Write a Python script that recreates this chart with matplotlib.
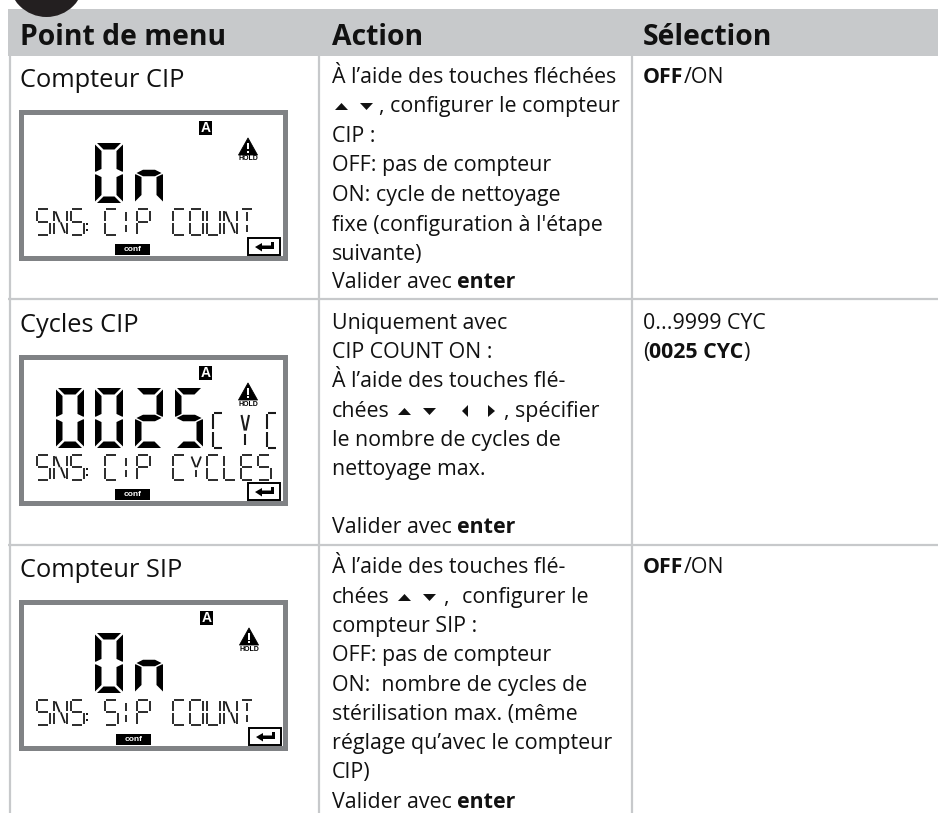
import matplotlib
matplotlib.use("Agg")
import matplotlib.pyplot as plt
from matplotlib.patches import Rectangle, Polygon, Circle

FONT = "Open Sans"
plt.rcParams["font.family"] = [FONT, "DejaVu Sans"]

# ---- table content ----
headers = ["Point de menu", "Action", "Sélection"]
header_x = [20, 332, 643]
row_titles = ["Compteur CIP", "Cycles CIP", "Compteur SIP"]
row_title_y = [87, 332, 577]
lcd_top = [110, 355, 600]
lcd_dx = [0, 0, 1]
lcd_big = ["On", "0025", "On"]
lcd_big_start = [1, 0, 1]
lcd_small = ["SNS C P COUNT", "SNS C P CYCLES", "SNS S P COUNT"]
lcd_unit = ["", "CYC", ""]

# each action line: baseline, list of (text, bold) runs or (mark, x) pieces
action_lines = [
    (83, [("À l’aide des touches fléchées", 0)]),
    (112, [("^", 335), ("v", 360), (", configurer le compteur", 379)]),
    (142, [("CIP :", 0)]),
    (171, [("OFF: pas de compteur", 0)]),
    (201, [("ON: cycle de nettoyage", 0)]),
    (231, [("fixe (configuration à l'étape", 0)]),
    (260, [("suivante)", 0)]),
    (288, [("Valider avec ", 0), ("enter", 1)]),
    (329, [("Uniquement avec", 0)]),
    (358, [("CIP COUNT ON :", 0)]),
    (387, [("À l’aide des touches flé-", 0)]),
    (417, [("chées", 332), ("^", 398), ("v", 423), ("<", 462), (">", 488), (", spécifier", 504)]),
    (446, [("le nombre de cycles de", 0)]),
    (475, [("nettoyage max.", 0)]),
    (533, [("Valider avec ", 0), ("enter", 1)]),
    (573, [("À l’aide des touches flé-", 0)]),
    (603, [("chées", 332), ("^", 398), ("v", 423), (",", 443), ("configurer le", 462)]),
    (632, [("compteur SIP :", 0)]),
    (661, [("OFF: pas de compteur", 0)]),
    (691, [("ON:  nombre de cycles de", 0)]),
    (720, [("stérilisation max. (même", 0)]),
    (749, [("réglage qu’avec le compteur", 0)]),
    (778, [("CIP)", 0)]),
    (808, [("Valider avec ", 0), ("enter", 1)]),
]
selection_lines = [
    (83, [("OFF", 1), ("/ON", 0)]),
    (329, [("0...9999 CYC", 0)]),
    (358, [("(", 0), ("0025 CYC", 1), (")", 0)]),
    (573, [("OFF", 1), ("/ON", 0)]),
]

GRAY = "#C7C9CB"
FRAME = "#808285"
INK = "#111111"

fig = plt.figure(figsize=(9.38, 8.13), dpi=100)
ax = fig.add_axes([0, 0, 1, 1])
ax.set_xlim(0, 938)
ax.set_ylim(813, 0)
ax.axis("off")
fig.canvas.draw()
renderer = fig.canvas.get_renderer()


def rect(x0, y0, x1, y1, fc, ec="none", lw=0, z=2):
    ax.add_patch(Rectangle((x0, y0), x1 - x0, y1 - y0, fc=fc, ec=ec, lw=lw, zorder=z))


def width(s, size, bold):
    w = "bold" if bold else "normal"
    t = ax.text(0, 0, s + "|", fontsize=size, fontweight=w)
    a = t.get_window_extent(renderer).width
    t.set_text("|")
    b = t.get_window_extent(renderer).width
    t.remove()
    return a - b


def runs(x, y, parts, size):
    for s, b in parts:
        ax.text(x, y, s, fontsize=size, fontweight="bold" if b else "normal",
                color=INK, va="baseline", ha="left", zorder=5)
        x += width(s, size, b)


def tri(x, y, kind):
    # arrow keys drawn relative to the line baseline
    if kind == "^":
        pts = [(x, y - 2), (x + 13, y - 2), (x + 6.5, y - 9)]
    elif kind == "v":
        pts = [(x, y - 9), (x + 13, y - 9), (x + 6.5, y - 2)]
    elif kind == "<":
        pts = [(x + 6, y - 12), (x + 6, y), (x, y - 6)]
    else:
        pts = [(x, y - 12), (x, y), (x + 7, y - 6)]
    ax.add_patch(Polygon(pts, fc=INK, ec="none", zorder=5))


# ---- header, grid ----
rect(8, 9, 938, 56, GRAY)
ax.add_patch(Circle((46.5, -21), 38, fc="#231F20", ec="none", zorder=3))
for s, x in zip(headers, header_x):
    ax.text(x, 45, s, fontsize=20.4, fontweight="bold", color=INK, va="baseline", zorder=5)
for x in (9.5, 319, 631.5):
    ax.plot([x, x], [56, 813], color=GRAY, lw=1.6, zorder=1, solid_capstyle="butt")
for y in (299.5, 544.5):
    ax.plot([8, 938], [y, y], color=GRAY, lw=1.6, zorder=1, solid_capstyle="butt")

# ---- segment displays ----
BIG_W, BIG_H, T = 28, 60, 6.5


def big_segments(x, y, segs, w=BIG_W, h=BIG_H, t=T):
    m = h / 2
    shapes = {
        "a": [(2, 0), (w - 2, 0), (w - 2 - t, t), (2 + t, t)],
        "d": [(2, h), (w - 2, h), (w - 2 - t, h - t), (2 + t, h - t)],
        "g": [(1.5, m), (1.5 + t, m - t / 2), (w - 1.5 - t, m - t / 2), (w - 1.5, m),
              (w - 1.5 - t, m + t / 2), (1.5 + t, m + t / 2)],
        "f": [(0, 1.5), (t, 1.5 + t), (t, m - t / 2 - .8), (0.6, m - 1.2), (0, m - 1.6)],
        "e": [(0, h - 1.5), (t, h - 1.5 - t), (t, m + t / 2 + .8), (0.6, m + 1.2), (0, m + 1.6)],
        "b": [(w, 1.5), (w - t, 1.5 + t), (w - t, m - t / 2 - .8), (w - .6, m - 1.2), (w, m - 1.6)],
        "c": [(w, h - 1.5), (w - t, h - 1.5 - t), (w - t, m + t / 2 + .8), (w - .6, m + 1.2), (w, m + 1.6)],
    }
    for sg in segs:
        ax.add_patch(Polygon([(x + px, y + py) for px, py in shapes[sg]],
                             fc="black", ec="none", zorder=4))


BIG = {"0": "abcdef", "2": "abged", "5": "afgcd", "O": "abcdef", "n": "gec"}
THIN = {
    "S": "afgcd", "N": "febchm", "C": "afed", "P": "afebg", "O": "abcdef",
    "U": "bcdef", "T": "ail", "Y": "hjl", "L": "fed", "E": "afedg", "I": "il",
}


def thin_char(x, y, ch, w=12.5, h=25.5, lw=1.3):
    m = h / 2
    cx = w / 2
    g = 1.2
    lines = {
        "a": [(g, 0), (w - g, 0)], "d": [(g, h), (w - g, h)],
        "g": [(g, m), (w - g, m)],
        "f": [(0, g), (0, m - g)], "e": [(0, m + g), (0, h - g)],
        "b": [(w, g), (w, m - g)], "c": [(w, m + g), (w, h - g)],
        "i": [(cx, 3), (cx, m - g)], "l": [(cx, m + 3), (cx, h - 3)],
        "h": [(1.5, 2), (cx - .5, m)], "j": [(w - 1.5, 2), (cx + .5, m)],
        "m": [(cx + .5, m), (w - 1.5, h - 2)],
    }
    for sg in THIN[ch]:
        (x0, y0), (x1, y1) = lines[sg]
        ax.plot([x + x0, x + x1], [y + y0, y + y1], color="#1a1a1a", lw=lw,
                solid_capstyle="butt", zorder=4)


def small_line(lx, ly, text):
    # 14-segment row; position 3 of the row is the colon slot
    for i, ch in enumerate(text):
        if ch == " ":
            continue
        nudge = -2 if i == 6 else 0
        thin_char(lx + 18 + 17 * i + nudge, ly + 99.5, ch)
    for dy in (114, 119.5):
        rect(lx + 67, ly + dy - 1, lx + 69, ly + dy + 1, "#1a1a1a", z=4)
    # the narrow "I" between the two letters of the program name
    thin_char(lx + 18 + 17 * 5 - 2.5, ly + 99.5, "I")


def lcd(i):
    dx = lcd_dx[i]
    lx, ly = 19, lcd_top[i]
    rect(lx, ly, lx + 269, ly + 151, FRAME, z=2)
    rect(lx + 5, ly + 5, lx + 264, ly + 146, "white", z=3)
    # channel flag
    rect(lx + 180 + dx, ly + 11, lx + 193 + dx, ly + 25, "black", z=4)
    ax.text(lx + 186.5 + dx, ly + 18.3, "A", color="white", fontsize=10, fontweight="bold",
            family=["Liberation Sans"], ha="center", va="center", zorder=5)
    # warning sign
    wx = lx + 219 + dx
    wy = ly + 28
    ax.add_patch(Polygon([(wx + 10, wy), (wx + 19.5, wy + 17), (wx + .5, wy + 17)],
                         fc="black", ec="black", lw=.6, joinstyle="round", zorder=4))
    rect(wx + 9, wy + 5, wx + 11, wy + 11.5, "white", z=5)
    rect(wx + 9, wy + 13, wx + 11, wy + 15, "white", z=5)
    ax.text(wx + 10, wy + 21, "HOLD", color="black", fontsize=5, fontweight="bold",
            family=["Liberation Sans"], ha="center", va="center", zorder=5)
    # big digits
    xs = [lx + 37, lx + 76, lx + 116, lx + 156]
    for k, ch in enumerate(lcd_big[i]):
        big_segments(xs[lcd_big_start[i] + k], ly + 33, BIG[ch])
    # unit
    for k, ch in enumerate(lcd_unit[i]):
        thin_char(lx + 194 + 27 * k, ly + 58, ch, w=10.5, h=35, lw=1.5)
    small_line(lx, ly, lcd_small[i])
    # conf badge
    rect(lx + 96 + dx, ly + 134, lx + 131 + dx, ly + 145, "black", z=4)
    ax.text(lx + 113.5 + dx, ly + 139.3, "conf", color="white", fontsize=6, fontweight="bold",
            family=["Liberation Sans"], ha="center", va="center", zorder=5)
    # enter key
    ex, ey = lx + 229 + dx, ly + 128
    ax.add_patch(Rectangle((ex, ey), 32, 17, fc="white", ec="black", lw=1.4, zorder=4))
    ax.add_patch(Polygon([(ex + 7, ey + 9), (ex + 14, ey + 5), (ex + 14, ey + 7.5), (ex + 23, ey + 7.5),
                          (ex + 23, ey + 4), (ex + 26, ey + 4), (ex + 26, ey + 11),
                          (ex + 14, ey + 11), (ex + 14, ey + 13.5)],
                         fc="black", ec="none", zorder=5))


for i in range(3):
    ax.text(20, row_title_y[i], row_titles[i], fontsize=18.3, color=INK, va="baseline", zorder=5)
    lcd(i)

# ---- body text ----
SIZE = 15.4
for y, parts in action_lines:
    if parts[0][1] not in (0, 1):
        for s, x in parts:
            if s in "^v<>":
                tri(x, y, s)
            else:
                ax.text(x, y, s, fontsize=SIZE, color=INK, va="baseline", zorder=5)
    else:
        runs(332, y, parts, SIZE)
for y, parts in selection_lines:
    runs(643, y, parts, SIZE)

fig.savefig("out.png", dpi=100)
